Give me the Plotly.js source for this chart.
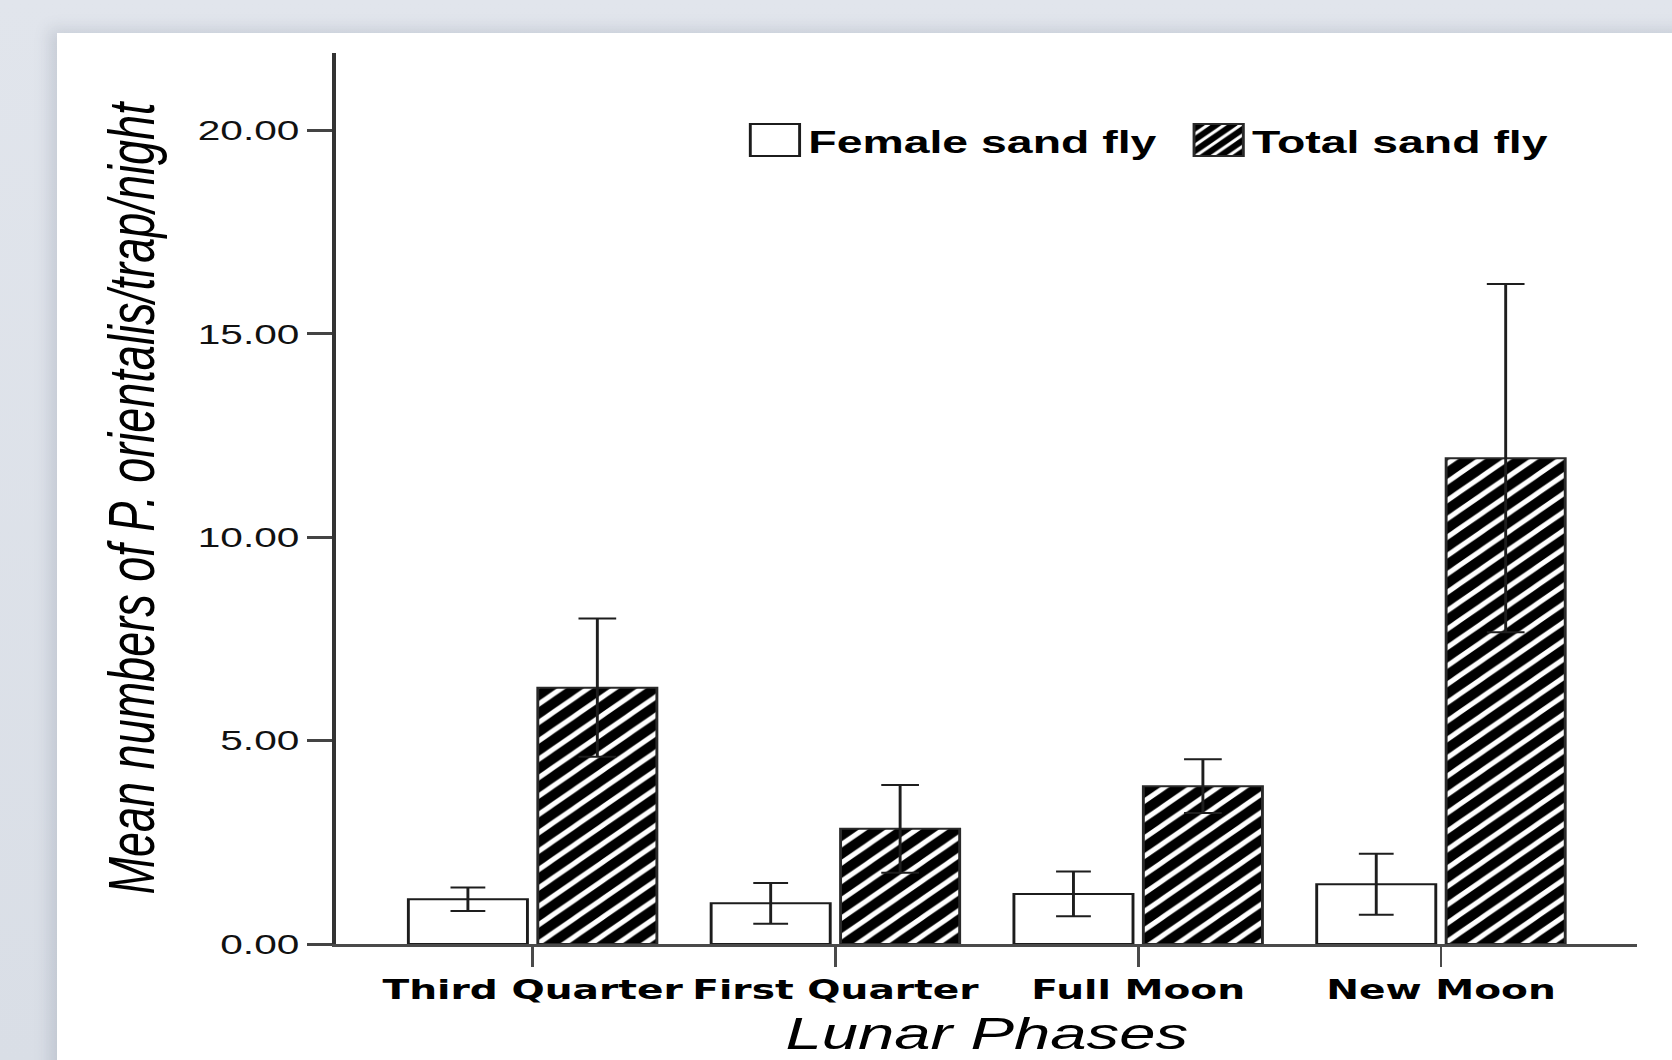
<!DOCTYPE html>
<html>
<head>
<meta charset="utf-8">
<script src="https://cdn.plot.ly/plotly-3.0.1.min.js"></script>
<style>
  html, body { margin: 0; padding: 0; width: 1672px; height: 1060px; overflow: hidden;
    background: linear-gradient(180deg, #e1e5ec 0%, #d9dee6 100%); }
  #card { position: absolute; left: 57px; top: 33px; width: 1640px; height: 1100px;
    background: #ffffff; box-shadow: -8px -4px 14px rgba(90,100,120,0.18); }
  #plot { position: absolute; left: 0; top: 0; width: 1153px; height: 1100px;
    transform: scaleX(1.4501); transform-origin: 0 0; }
</style>
</head>
<body>
<div id="card"></div>
<div id="plot"></div>
<script>
// ---- data ----
const categories = ['Third Quarter', 'First Quarter', 'Full Moon', 'New Moon'];
const femaleMean = [1.10, 1.00, 1.23, 1.47];
const femaleSE   = [0.29, 0.50, 0.55, 0.75];
const totalMean  = [6.30, 2.83, 3.88, 11.94];
const totalSE    = [1.70, 1.08, 0.66, 4.28];
const seriesNames = ['Female sand fly', 'Total sand fly'];
const yTickVals = [0, 5, 10, 15, 20];
const yTitle = 'Mean numbers of P. orientalis/trap/night';
const xTitle = 'Lunar Phases';

const female = {
  type: 'bar', name: seriesNames[0], x: categories, y: femaleMean,
  marker: { color: '#ffffff', line: { color: '#1c1c1c', width: 2 } },
  error_y: { type: 'data', array: femaleSE, visible: true, color: '#1e1e1e', thickness: 2, width: 12 }
};
const total = {
  type: 'bar', name: seriesNames[1], x: categories, y: totalMean,
  marker: { color: '#000000', line: { color: '#2a2a2a', width: 2 },
    pattern: { shape: '/', bgcolor: '#000000', fgcolor: '#ffffff', fgopacity: 1, size: 13, solidity: 0.33, fillmode: 'replace' } },
  error_y: { type: 'data', array: totalSE, visible: true, color: '#1e1e1e', thickness: 2, width: 13 }
};

const layout = {
  width: 1153, height: 1100,
  margin: { l: 232, r: 24, t: 53, b: 156, pad: 0 },
  paper_bgcolor: 'rgba(0,0,0,0)', plot_bgcolor: 'rgba(0,0,0,0)',
  barmode: 'group', bargap: 0.145, bargroupgap: 0.08,
  showlegend: true,
  legend: {
    orientation: 'h', x: 0.3115, xanchor: 'left', y: 0.902, yanchor: 'middle',
    font: { family: 'Liberation Sans, Arial, sans-serif', size: 32, weight: 'bold', color: '#000' },
    bgcolor: 'rgba(0,0,0,0)', borderwidth: 0, itemwidth: 36, traceorder: 'normal',
    entrywidth: 255, entrywidthmode: 'pixels'
  },
  xaxis: {
    type: 'category', range: [-0.648, 3.648], showgrid: false, zeroline: false,
    showline: true, linecolor: '#4a4a4a', linewidth: 3,
    ticks: 'outside', ticklen: 20, tickwidth: 2, tickcolor: '#4a4a4a',
    tickfont: { family: 'DejaVu Sans, sans-serif', size: 27, weight: 'bold', color: '#000' },
    title: { text: xTitle, standoff: 14,
      font: { family: 'Liberation Sans, Arial, sans-serif', size: 45, style: 'italic', color: '#000' } },
    automargin: false, fixedrange: true
  },
  yaxis: {
    range: [0, 21.9], tickvals: yTickVals, tickformat: '.2f', showgrid: false, zeroline: false,
    showline: true, linecolor: '#333333', linewidth: 3,
    ticks: 'outside', ticklen: 17, tickwidth: 3, tickcolor: '#444444',
    tickfont: { family: 'Liberation Sans, Arial, sans-serif', size: 28, color: '#111' },
    title: { text: yTitle, standoff: 16,
      font: { family: 'Liberation Sans, Arial, sans-serif', size: 45, style: 'italic', color: '#000' } },
    automargin: false, fixedrange: true
  }
};

Plotly.newPlot('plot', [female, total], layout, { staticPlot: true, displayModeBar: false }).then(function (gd) {
  // enlarge the legend swatches to the reference's box size
  gd.querySelectorAll('.legend .legendpoints path').forEach(function (p) {
    p.setAttribute('d', 'M17,16H-17V-16H17Z');
  });
});
</script>
</body>
</html>
